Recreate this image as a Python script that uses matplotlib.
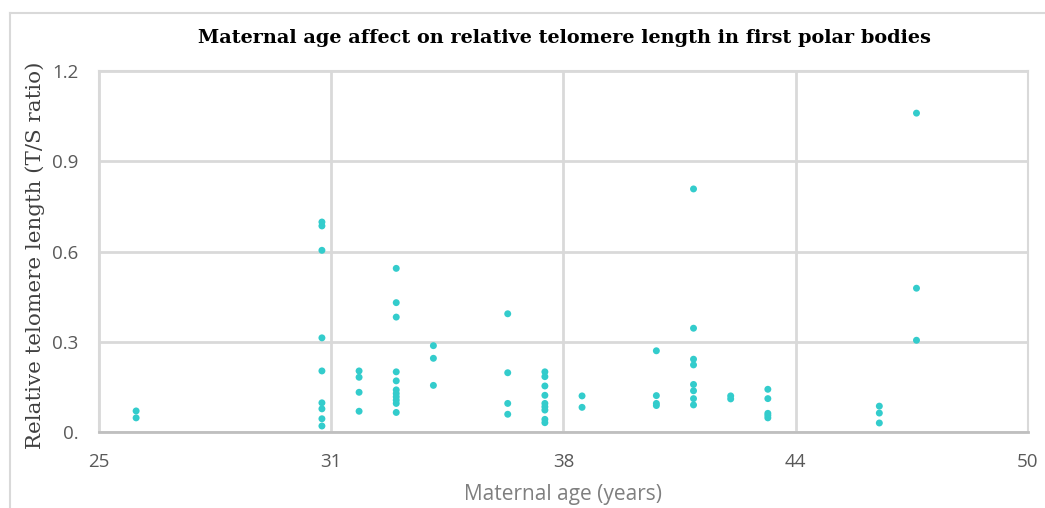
import matplotlib.pyplot as plt
from matplotlib.lines import Line2D

# maternal age (years) and relative telomere length (T/S ratio)
age = [26, 26,
       31, 31, 31, 31, 31, 31, 31, 31, 31,
       32, 32, 32, 32,
       33, 33, 33, 33, 33, 33, 33, 33, 33, 33, 33,
       34, 34, 34,
       36, 36, 36, 36,
       37, 37, 37, 37, 37, 37, 37, 37, 37,
       38, 38,
       40, 40, 40, 40,
       41, 41, 41, 41, 41, 41, 41, 41,
       42, 42,
       43, 43, 43, 43, 43,
       46, 46, 46,
       47, 47, 47]
tsr = [0.070, 0.047,
       0.698, 0.685, 0.604, 0.313, 0.203, 0.097, 0.077, 0.044, 0.020,
       0.203, 0.182, 0.132, 0.069,
       0.544, 0.430, 0.382, 0.200, 0.170, 0.140, 0.128, 0.117, 0.106, 0.095, 0.065,
       0.287, 0.245, 0.155,
       0.393, 0.197, 0.095, 0.059,
       0.200, 0.184, 0.153, 0.122, 0.095, 0.084, 0.073, 0.042, 0.031,
       0.120, 0.082,
       0.270, 0.121, 0.095, 0.088,
       0.808, 0.345, 0.242, 0.223, 0.158, 0.137, 0.111, 0.090,
       0.120, 0.110,
       0.142, 0.111, 0.062, 0.055, 0.047,
       0.086, 0.063, 0.030,
       1.060, 0.478, 0.305]

xticks = [25, 31.25, 37.5, 43.75, 50]
xtick_labels = ['25', '31', '38', '44', '50']
yticks = [0, 0.3, 0.6, 0.9, 1.2]
ytick_labels = ['0.', '0.3', '0.6', '0.9', '1.2']

fig = plt.figure(figsize=(10.45, 5.08), dpi=100)
ax = fig.add_axes([0.0947, 0.1496, 0.889, 0.7106])

ax.scatter(age, tsr, s=25, color='#33CCCC', edgecolors='none', zorder=3)

ax.set_xlim(25, 50)
ax.set_ylim(0, 1.2)
ax.set_xticks(xticks)
ax.set_xticklabels(xtick_labels)
ax.set_yticks(yticks)
ax.set_yticklabels(ytick_labels)
ax.grid(True, color='#D9D9D9', linewidth=2)
ax.set_axisbelow(True)
ax.tick_params(length=0, labelsize=13.5, labelcolor='#595959')
ax.tick_params(axis='x', pad=15)
ax.tick_params(axis='y', pad=15)
for lab in ax.get_xticklabels() + ax.get_yticklabels():
    lab.set_family('Open Sans')

for side in ['top', 'right', 'left']:
    ax.spines[side].set_color('#D9D9D9')
    ax.spines[side].set_linewidth(1.5)
ax.spines['bottom'].set_color('#BFBFBF')
ax.spines['bottom'].set_linewidth(2)

ax.set_xlabel('Maternal age (years)', family='Open Sans', fontsize=15,
              color='#7F7F7F')
ax.xaxis.set_label_coords(0.5, -0.172)
ax.xaxis.label.set_va('center')
ax.set_ylabel('Relative telomere length (T/S ratio)', family='DejaVu Serif',
              fontsize=15.4, color='#404040')
ax.yaxis.set_label_coords(-0.069, 0.49)
ax.yaxis.label.set_va('center')
fig.text(0.54, 0.925, 'Maternal age affect on relative telomere length in first polar bodies',
         ha='center', va='center', family='DejaVu Serif', fontweight='bold',
         fontsize=13.9)

# outer chart frame (only top and left edges visible)
fig.add_artist(Line2D([0.0096, 1.0], [0.974, 0.974], color='#D9D9D9', lw=1.5,
                      transform=fig.transFigure))
fig.add_artist(Line2D([0.0096, 0.0096], [0.0, 0.974], color='#D9D9D9', lw=1.5,
                      transform=fig.transFigure))

fig.savefig('out.png', dpi=100)
